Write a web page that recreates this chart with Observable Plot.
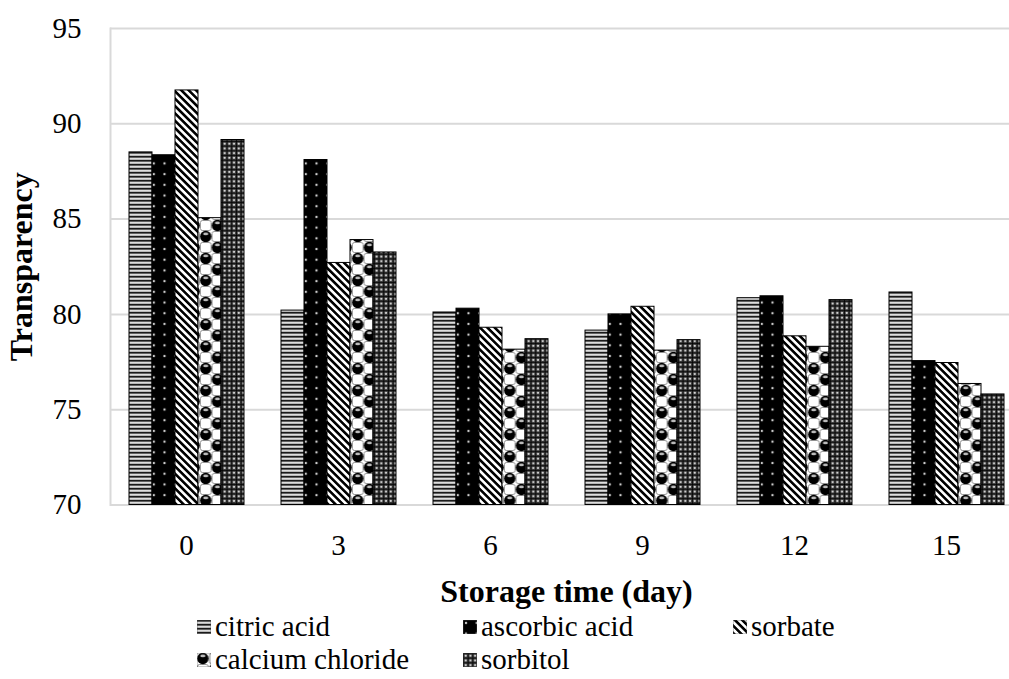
<!DOCTYPE html>
<html>
<head>
<meta charset="utf-8">
<script src="https://cdn.jsdelivr.net/npm/d3@7"></script>
<script src="https://cdn.jsdelivr.net/npm/@observablehq/plot@0.6"></script>
<style>
  html, body { margin: 0; padding: 0; background: white; }
  #wrap { position: relative; width: 1009px; height: 679px; overflow: hidden; font-family: "Times New Roman", "Liberation Serif", "DejaVu Serif", serif; }
  #chart svg, #chart svg text { font-family: "Times New Roman", "Liberation Serif", "DejaVu Serif", serif; }
  g[aria-label="y-axis label"] text, g[aria-label="fx-axis label"] text { font-weight: bold; font-size: 32px; }
  #legend { position: absolute; left: 197px; top: 610px; display: grid; grid-template-columns: 266px 270px auto; font-family: "Times New Roman", "Liberation Serif", "DejaVu Serif", serif; font-size: 29px; line-height: 33px; color: #000; }
  #legend .item { display: flex; align-items: center; white-space: nowrap; }
  #legend svg { margin-right: 4px; flex: none; }
</style>
</head>
<body>
<svg width="0" height="0" style="position:absolute">
  <defs>
    <pattern id="pCitric" width="8" height="4" patternUnits="userSpaceOnUse">
      <rect width="8" height="4" fill="#a8a8a8"/>
      <rect y="0" width="8" height="1.5" fill="#1a1a1a"/>
      <rect y="2.3" width="8" height="0.9" fill="#f4f4f4"/>
    </pattern>
    <pattern id="pAscorbic" width="10.7" height="10.7" patternUnits="userSpaceOnUse">
      <rect width="10.7" height="10.7" fill="#000"/>
      <circle cx="3" cy="3" r="1.2" fill="#d0d0d0"/>
    </pattern>
    <pattern id="pSorbate" width="5.2" height="8" patternUnits="userSpaceOnUse" patternTransform="rotate(-45)">
      <rect width="5.2" height="8" fill="#fff"/>
      <rect width="2.6" height="8" fill="#000"/>
    </pattern>
    <pattern id="pCalcium" width="23.4" height="22" patternUnits="userSpaceOnUse">
      <rect width="23.4" height="22" fill="#fff"/>
      <rect x="12.2" y="0.5" width="10.7" height="10" rx="2" fill="#fff" stroke="#777" stroke-width="0.8"/>
      <rect x="0.5" y="11.5" width="10.7" height="10" rx="2" fill="#fff" stroke="#777" stroke-width="0.8"/>
      <circle cx="5.85" cy="5.5" r="5.7" fill="#000"/>
      <circle cx="17.55" cy="16.5" r="5.7" fill="#000"/>
      <ellipse cx="5.85" cy="2.9" rx="2.6" ry="1.3" fill="#bbb"/>
      <ellipse cx="17.55" cy="13.9" rx="2.6" ry="1.3" fill="#bbb"/>
    </pattern>
    <pattern id="pSorbitol" width="4.7" height="4.7" patternUnits="userSpaceOnUse">
      <rect width="4.7" height="4.7" fill="#3a3a3a"/>
      <rect width="4.7" height="0.7" fill="#000"/>
      <rect width="0.7" height="4.7" fill="#000"/>
      <circle cx="2.7" cy="2.7" r="1.15" fill="#d8d8d8"/>
    </pattern>
  </defs>
</svg>
<div id="wrap">
  <div id="chart"></div>
  <div id="legend"></div>
</div>
<script>
// ---- data ----
const days = [0, 3, 6, 9, 12, 15];
const seriesNames = ["citric acid", "ascorbic acid", "sorbate", "calcium chloride", "sorbitol"];
const citricAcid      = [88.5, 80.2, 80.1, 79.15, 80.85, 81.15];
const ascorbicAcid    = [88.35, 88.1, 80.3, 80.0, 80.95, 77.55];
const sorbate         = [91.75, 82.7, 79.3, 80.4, 78.85, 77.45];
const calciumChloride = [85.05, 83.9, 78.15, 78.1, 78.3, 76.35];
const sorbitol        = [89.15, 83.25, 78.7, 78.65, 80.75, 75.8];
const yTicks = [70, 75, 80, 85, 90, 95];
const patternFills = ["url(#pCitric)", "url(#pAscorbic)", "url(#pSorbate)", "url(#pCalcium)", "url(#pSorbitol)"];

const seriesValues = [citricAcid, ascorbicAcid, sorbate, calciumChloride, sorbitol];
const data = [];
days.forEach((d, i) => {
  seriesNames.forEach((s, j) => data.push({day: d, series: s, value: seriesValues[j][i]}));
});
const yMin = yTicks[0], yMax = yTicks[yTicks.length - 1];

const font = "'Times New Roman', 'Liberation Serif', 'DejaVu Serif', serif";
const chart = Plot.plot({
  width: 1009,
  height: 610,
  marginTop: 28,
  marginBottom: 105.5,
  marginLeft: 109,
  marginRight: -13,
  style: {fontFamily: font, fontSize: "29px", color: "#000", background: "white"},
  fx: {domain: days, padding: 0},
  x: {domain: seriesNames, paddingInner: 0, paddingOuter: 0.752, axis: null},
  y: {domain: [yMin, yMax]},
  color: {type: "ordinal", domain: seriesNames, range: patternFills},
  marks: [
    Plot.gridY(yTicks, {stroke: "#d9d9d9", strokeOpacity: 1, strokeWidth: 2}),
    Plot.ruleY([yMin], {stroke: "#d9d9d9", strokeWidth: 2}),
    Plot.frame({anchor: "left", facet: "super", stroke: "#d9d9d9", strokeWidth: 2}),
    Plot.barY(data, {fx: "day", x: "series", y1: yMin, y2: "value", fill: "series", stroke: "#000", strokeWidth: 1}),
    Plot.axisY(yTicks, {tickSize: 0, tickPadding: 29, fontSize: 29, label: "Transparency", labelAnchor: "center", labelArrow: "none", labelOffset: 101}),
    Plot.axisFx({anchor: "bottom", tickSize: 0, tickPadding: 29, fontSize: 29, label: "Storage time (day)", labelAnchor: "center", labelArrow: "none", labelOffset: 97})
  ]
});
document.getElementById("chart").appendChild(chart);

// ---- legend (HTML, uses same pattern fills) ----
const legend = document.getElementById("legend");
seriesNames.forEach((s, j) => {
  const item = document.createElement("div");
  item.className = "item";
  item.innerHTML = `<svg width="14" height="14"><rect width="14" height="14" fill="${patternFills[j]}" stroke="#555" stroke-width="0.6"/></svg><span>${s}</span>`;
  legend.appendChild(item);
});
</script>
</body>
</html>
